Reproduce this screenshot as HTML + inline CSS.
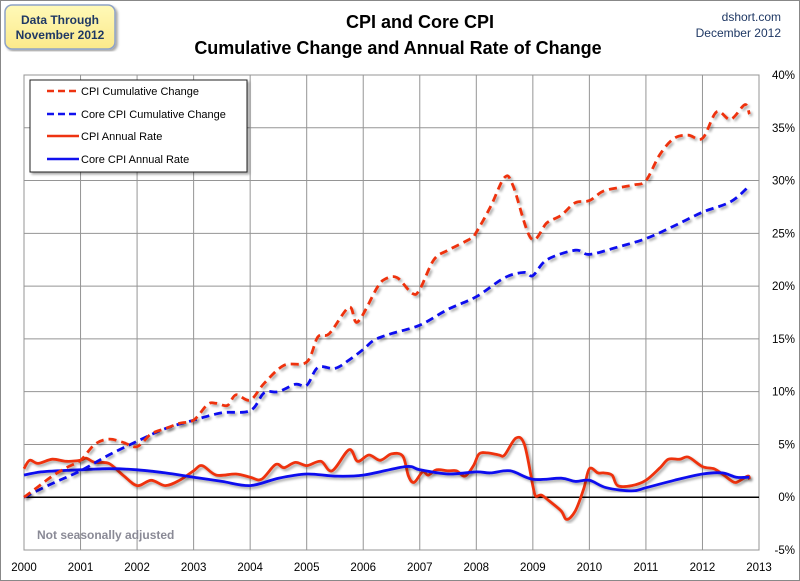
<!DOCTYPE html>
<html><head><meta charset="utf-8"><style>
body{margin:0;background:#fff;}
svg{display:block;font-family:"Liberation Sans",sans-serif;}
</style></head><body>
<svg id="chart" width="800" height="581" viewBox="0 0 800 581" xmlns="http://www.w3.org/2000/svg">
<defs>
<filter id="sh" x="-5%" y="-5%" width="110%" height="110%"><feDropShadow dx="2" dy="2" stdDeviation="1.2" flood-color="#000" flood-opacity="0.35"/></filter>
<linearGradient id="yg" x1="0" y1="0" x2="0" y2="1"><stop offset="0" stop-color="#fff9b8"/><stop offset="1" stop-color="#fbe98a"/></linearGradient>
</defs>
<rect x="0.5" y="0.5" width="799" height="580" fill="#fff" stroke="#888"/>
<g id="grid"></g>
<g id="series"></g>
<g id="axes"></g>
<rect x="5" y="5" width="110" height="44" rx="7" fill="url(#yg)" stroke="#8ea2c6" stroke-width="1.5" filter="url(#sh)"/>
<text x="60" y="24" text-anchor="middle" font-size="12" font-weight="bold" fill="#1f3864">Data Through</text>
<text x="60" y="39" text-anchor="middle" font-size="12" font-weight="bold" fill="#1f3864">November 2012</text>
<text x="420" y="28" text-anchor="middle" font-size="18" font-weight="bold" fill="#000">CPI and Core CPI</text>
<text x="398" y="54" text-anchor="middle" font-size="18" font-weight="bold" fill="#000">Cumulative Change and Annual Rate of Change</text>
<text x="781" y="21" text-anchor="end" font-size="12" fill="#1f3864">dshort.com</text>
<text x="781" y="37" text-anchor="end" font-size="12" fill="#1f3864">December 2012</text>
<text x="37" y="539" font-size="12" font-weight="bold" fill="#8a8a96">Not seasonally adjusted</text>
<g>
<rect x="30" y="80" width="217" height="92" fill="#fff" stroke="#222" stroke-width="1" filter="url(#sh)"/>
<line x1="47" y1="91" x2="77" y2="91" stroke="#ee3311" stroke-width="2.5" stroke-dasharray="7,4"/>
<text x="81" y="95" font-size="11" fill="#000">CPI Cumulative Change</text>
<line x1="47" y1="114" x2="77" y2="114" stroke="#1111ee" stroke-width="2.5" stroke-dasharray="7,4"/>
<text x="81" y="118" font-size="11" fill="#000">Core CPI Cumulative Change</text>
<line x1="47" y1="136" x2="79" y2="136" stroke="#ee3311" stroke-width="2.5"/>
<text x="81" y="140" font-size="11" fill="#000">CPI Annual Rate</text>
<line x1="47" y1="159" x2="79" y2="159" stroke="#1111ee" stroke-width="2.5"/>
<text x="81" y="163" font-size="11" fill="#000">Core CPI Annual Rate</text>
</g>
</svg>
<script>
const yearTicks=[2000,2001,2002,2003,2004,2005,2006,2007,2008,2009,2010,2011,2012,2013];
const pctTicks=[40,35,30,25,20,15,10,5,0,-5];
const cpiCumT=[2000,2000.25,2000.5,2000.75,2001,2001.25,2001.5,2001.75,2002,2002.25,2002.5,2002.75,2003,2003.25,2003.4,2003.6,2003.75,2004,2004.25,2004.6,2005,2005.2,2005.4,2005.75,2005.9,2006.25,2006.4,2006.6,2006.87,2007,2007.25,2007.5,2007.9,2008,2008.25,2008.5,2008.65,2008.97,2009.25,2009.5,2009.75,2010,2010.25,2010.6,2010.8,2011,2011.25,2011.5,2011.75,2012,2012.25,2012.5,2012.75,2012.83];
const cpiCum=[0,1,2,2.8,3.5,5,5.5,5.2,4.8,6,6.5,7,7.3,8.8,8.9,8.7,9.7,9.2,10.8,12.5,12.8,15.2,15.5,18,16.6,19.9,20.7,20.8,19.3,19.7,22.5,23.4,24.5,25.1,27.5,30.3,29.5,24.5,26,26.7,27.9,28.1,29,29.4,29.6,30,32.5,34,34.3,34,36.5,35.8,37.2,36.3];
const coreCumT=[2000,2000.5,2001,2001.5,2002,2002.5,2003,2003.5,2004,2004.25,2004.5,2004.8,2005,2005.2,2005.5,2005.75,2006,2006.2,2006.5,2007,2007.5,2008,2008.5,2008.85,2009,2009.25,2009.75,2010,2010.5,2011,2011.5,2012,2012.5,2012.83];
const coreCum=[0,1.3,2.5,4,5.3,6.5,7.3,8,8.2,9.9,10,10.7,10.6,12.3,12.2,13,14,14.9,15.5,16.3,17.8,19,20.8,21.3,21,22.5,23.4,23,23.7,24.5,25.7,27,28,29.5];
const cpiRateT=[2000,2000.1,2000.25,2000.5,2000.75,2001,2001.1,2001.25,2001.5,2001.75,2002,2002.25,2002.5,2002.75,2003,2003.15,2003.4,2003.75,2004,2004.2,2004.45,2004.6,2004.8,2005,2005.25,2005.45,2005.75,2005.9,2006.1,2006.3,2006.5,2006.7,2006.8,2006.9,2007.05,2007.15,2007.3,2007.5,2007.65,2007.8,2007.95,2008.05,2008.2,2008.4,2008.5,2008.7,2008.85,2009,2009.05,2009.15,2009.3,2009.5,2009.6,2009.75,2009.9,2010,2010.15,2010.25,2010.4,2010.5,2010.75,2011,2011.25,2011.4,2011.6,2011.75,2012,2012.2,2012.35,2012.5,2012.6,2012.8,2012.83];
const cpiRate=[2.7,3.5,3.2,3.6,3.4,3.5,3.7,3.3,3.2,2.1,1.1,1.6,1.1,1.6,2.5,3.0,2.1,2.2,1.9,1.7,3.1,2.8,3.3,3.0,3.4,2.5,4.5,3.4,4.0,3.5,4.1,3.9,2.0,1.4,2.4,2.1,2.6,2.5,2.5,2.0,3.0,4.1,4.2,4.0,4.0,5.6,5.0,1.1,0.1,0.2,-0.4,-1.3,-2.1,-1.3,0.8,2.7,2.3,2.3,2.1,1.1,1.1,1.6,2.8,3.6,3.6,3.8,2.9,2.7,2.2,1.6,1.4,2.0,1.7];
const coreRateT=[2000,2000.3,2000.6,2001,2001.5,2002,2002.5,2003,2003.5,2004,2004.5,2005,2005.5,2006,2006.75,2007,2007.5,2008,2008.25,2008.6,2009,2009.5,2009.75,2010,2010.3,2010.75,2011,2011.5,2012,2012.35,2012.6,2012.83];
const coreRate=[2.1,2.4,2.5,2.6,2.7,2.6,2.3,1.9,1.5,1.1,1.8,2.2,2.0,2.1,2.9,2.6,2.2,2.4,2.3,2.5,1.7,1.8,1.5,1.6,0.9,0.6,0.9,1.6,2.2,2.3,1.9,1.9];

const X0=24,X1=759,Y0=75,Y1=550;
const xS=t=>X0+(t-2000)/13*(X1-X0);
const yS=v=>Y0+(40-v)/45*(Y1-Y0);
const NS="http://www.w3.org/2000/svg";
function mk(tag,attrs,parent){const e=document.createElementNS(NS,tag);for(const k in attrs)e.setAttribute(k,attrs[k]);parent.appendChild(e);return e;}
const grid=document.getElementById('grid'),axes=document.getElementById('axes'),series=document.getElementById('series');
mk('rect',{x:X0,y:Y0,width:X1-X0,height:Y1-Y0,fill:'#fff',stroke:'#909090'},grid);
yearTicks.forEach(y=>{
  const l=mk('line',{x1:xS(y),y1:Y0,x2:xS(y),y2:Y1,stroke:'#959595','stroke-width':1},grid);
  
  
  const t=mk('text',{x:xS(y),y:Y1+21,'text-anchor':'middle','font-size':11.5,fill:'#000'},axes);
  
  
  t.textContent=y;
});
pctTicks.forEach(p=>{
  const l=mk('line',{x1:X0,y1:yS(p),x2:X1,y2:yS(p),stroke:p===0?'#000':'#959595','stroke-width':p===0?1.5:1},grid);
  
  
  const t=mk('text',{x:795,y:yS(p)+4,'text-anchor':'end','font-size':11.5,fill:'#000'},axes);
  
  
  t.textContent=p+'%';
});
function pathD(ts,vs){
  const p=ts.map((t,i)=>[xS(t),yS(vs[i])]);
  let d='M'+p[0][0].toFixed(1)+','+p[0][1].toFixed(1);
  for(let i=0;i<p.length-1;i++){
    const a=p[Math.max(i-1,0)],b=p[i],c=p[i+1],e=p[Math.min(i+2,p.length-1)];
    const c1=[b[0]+(c[0]-a[0])/6,b[1]+(c[1]-a[1])/6],c2=[c[0]-(e[0]-b[0])/6,c[1]-(e[1]-b[1])/6];
    d+=' C'+c1.map(v=>v.toFixed(1))+' '+c2.map(v=>v.toFixed(1))+' '+c[0].toFixed(1)+','+c[1].toFixed(1);
  }
  return d;
}
function line(ts,vs,color,dash,name){
  const a={d:pathD(ts,vs),fill:'none',stroke:color,'stroke-width':2.8,'stroke-linejoin':'round',filter:'url(#sh)'};
  if(dash)a['stroke-dasharray']='8,5';
  const e=mk('path',a,series);
  
  
}
line(cpiRateT,cpiRate,'#ee3311',false,'cpi-annual-rate-line');
line(coreRateT,coreRate,'#1111ee',false,'core-cpi-annual-rate-line');
line(coreCumT,coreCum,'#1111ee',true,'core-cpi-cumulative-line');
line(cpiCumT,cpiCum,'#ee3311',true,'cpi-cumulative-line');
</script>
</body></html>
